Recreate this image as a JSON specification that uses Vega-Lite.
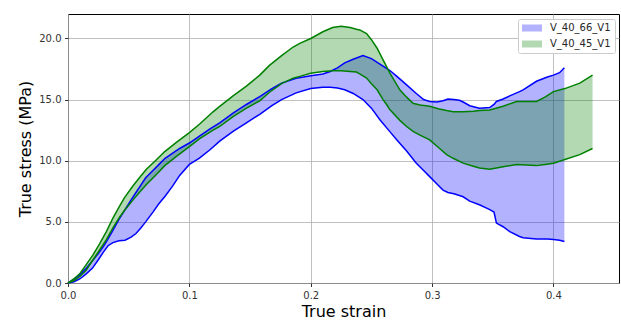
{
  "$schema": "https://vega.github.io/schema/vega-lite/v6.json",
  "width": 551,
  "height": 269,
  "autosize": "none",
  "padding": {"left": 68, "top": 14, "right": 2, "bottom": 38},
  "background": "white",
  "config": {
    "view": {"stroke": "black", "strokeWidth": 1},
    "font": "DejaVu Sans",
    "axis": {
      "domain": false,
      "grid": true,
      "gridColor": "#b0b0b0",
      "gridWidth": 0.8,
      "tickColor": "black",
      "tickSize": 3.5,
      "tickWidth": 0.8,
      "labelFlush": false,
      "labelFont": "DejaVu Sans",
      "labelFontSize": 10,
      "labelColor": "#333333",
      "labelPadding": 3.5,
      "titleFont": "DejaVu Sans",
      "titleFontSize": 16,
      "titleFontWeight": "normal",
      "titleColor": "black"
    }
  },
  "data": {
    "values": [
      {"s": "V_40_66_V1", "x": 0.000, "lo": 0.0, "hi": 0.0},
      {"s": "V_40_66_V1", "x": 0.005, "lo": 0.1, "hi": 0.3},
      {"s": "V_40_66_V1", "x": 0.010, "lo": 0.35, "hi": 0.7},
      {"s": "V_40_66_V1", "x": 0.015, "lo": 0.75, "hi": 1.2},
      {"s": "V_40_66_V1", "x": 0.020, "lo": 1.2, "hi": 1.8},
      {"s": "V_40_66_V1", "x": 0.025, "lo": 1.9, "hi": 2.4},
      {"s": "V_40_66_V1", "x": 0.029, "lo": 2.5, "hi": 2.95},
      {"s": "V_40_66_V1", "x": 0.033, "lo": 3.05, "hi": 3.6},
      {"s": "V_40_66_V1", "x": 0.037, "lo": 3.3, "hi": 4.3},
      {"s": "V_40_66_V1", "x": 0.042, "lo": 3.45, "hi": 5.2},
      {"s": "V_40_66_V1", "x": 0.047, "lo": 3.5, "hi": 6.0},
      {"s": "V_40_66_V1", "x": 0.052, "lo": 3.75, "hi": 6.8},
      {"s": "V_40_66_V1", "x": 0.056, "lo": 4.05, "hi": 7.4},
      {"s": "V_40_66_V1", "x": 0.060, "lo": 4.5, "hi": 8.0},
      {"s": "V_40_66_V1", "x": 0.064, "lo": 5.0, "hi": 8.6},
      {"s": "V_40_66_V1", "x": 0.070, "lo": 5.8, "hi": 9.2},
      {"s": "V_40_66_V1", "x": 0.075, "lo": 6.5, "hi": 9.7},
      {"s": "V_40_66_V1", "x": 0.080, "lo": 7.1, "hi": 10.2},
      {"s": "V_40_66_V1", "x": 0.086, "lo": 7.9, "hi": 10.6},
      {"s": "V_40_66_V1", "x": 0.092, "lo": 8.8, "hi": 11.0},
      {"s": "V_40_66_V1", "x": 0.100, "lo": 9.7, "hi": 11.45},
      {"s": "V_40_66_V1", "x": 0.108, "lo": 10.2, "hi": 12.0},
      {"s": "V_40_66_V1", "x": 0.117, "lo": 10.9, "hi": 12.6},
      {"s": "V_40_66_V1", "x": 0.125, "lo": 11.6, "hi": 13.1},
      {"s": "V_40_66_V1", "x": 0.136, "lo": 12.4, "hi": 13.9},
      {"s": "V_40_66_V1", "x": 0.147, "lo": 13.1, "hi": 14.6},
      {"s": "V_40_66_V1", "x": 0.158, "lo": 13.8, "hi": 15.25},
      {"s": "V_40_66_V1", "x": 0.168, "lo": 14.5, "hi": 15.9},
      {"s": "V_40_66_V1", "x": 0.176, "lo": 15.0, "hi": 16.35},
      {"s": "V_40_66_V1", "x": 0.188, "lo": 15.55, "hi": 16.75},
      {"s": "V_40_66_V1", "x": 0.200, "lo": 15.9, "hi": 16.95},
      {"s": "V_40_66_V1", "x": 0.210, "lo": 16.0, "hi": 17.1},
      {"s": "V_40_66_V1", "x": 0.216, "lo": 16.0, "hi": 17.3},
      {"s": "V_40_66_V1", "x": 0.222, "lo": 15.95, "hi": 17.6},
      {"s": "V_40_66_V1", "x": 0.228, "lo": 15.8, "hi": 18.0},
      {"s": "V_40_66_V1", "x": 0.235, "lo": 15.5, "hi": 18.3},
      {"s": "V_40_66_V1", "x": 0.243, "lo": 15.0, "hi": 18.6},
      {"s": "V_40_66_V1", "x": 0.250, "lo": 14.3, "hi": 18.35},
      {"s": "V_40_66_V1", "x": 0.257, "lo": 13.35, "hi": 17.9},
      {"s": "V_40_66_V1", "x": 0.265, "lo": 12.4, "hi": 17.4},
      {"s": "V_40_66_V1", "x": 0.271, "lo": 11.7, "hi": 16.9},
      {"s": "V_40_66_V1", "x": 0.279, "lo": 10.8, "hi": 16.2},
      {"s": "V_40_66_V1", "x": 0.287, "lo": 9.8, "hi": 15.5},
      {"s": "V_40_66_V1", "x": 0.293, "lo": 9.2, "hi": 15.0},
      {"s": "V_40_66_V1", "x": 0.298, "lo": 8.7, "hi": 14.85},
      {"s": "V_40_66_V1", "x": 0.304, "lo": 8.1, "hi": 14.8},
      {"s": "V_40_66_V1", "x": 0.309, "lo": 7.6, "hi": 14.9},
      {"s": "V_40_66_V1", "x": 0.313, "lo": 7.4, "hi": 15.05},
      {"s": "V_40_66_V1", "x": 0.318, "lo": 7.3, "hi": 15.0},
      {"s": "V_40_66_V1", "x": 0.3225, "lo": 7.15, "hi": 14.95},
      {"s": "V_40_66_V1", "x": 0.3256, "lo": 7.05, "hi": 14.8},
      {"s": "V_40_66_V1", "x": 0.331, "lo": 6.7, "hi": 14.5},
      {"s": "V_40_66_V1", "x": 0.339, "lo": 6.4, "hi": 14.3},
      {"s": "V_40_66_V1", "x": 0.3475, "lo": 6.0, "hi": 14.35},
      {"s": "V_40_66_V1", "x": 0.351, "lo": 5.8, "hi": 14.6},
      {"s": "V_40_66_V1", "x": 0.353, "lo": 4.9, "hi": 14.85},
      {"s": "V_40_66_V1", "x": 0.3585, "lo": 4.6, "hi": 15.05},
      {"s": "V_40_66_V1", "x": 0.364, "lo": 4.2, "hi": 15.3},
      {"s": "V_40_66_V1", "x": 0.372, "lo": 3.8, "hi": 15.65},
      {"s": "V_40_66_V1", "x": 0.375, "lo": 3.7, "hi": 15.8},
      {"s": "V_40_66_V1", "x": 0.386, "lo": 3.6, "hi": 16.5},
      {"s": "V_40_66_V1", "x": 0.395, "lo": 3.6, "hi": 16.85},
      {"s": "V_40_66_V1", "x": 0.400, "lo": 3.55, "hi": 17.0},
      {"s": "V_40_66_V1", "x": 0.405, "lo": 3.5, "hi": 17.2},
      {"s": "V_40_66_V1", "x": 0.409, "lo": 3.4, "hi": 17.6},
      {"s": "V_40_45_V1", "x": 0.000, "lo": 0.0, "hi": 0.0},
      {"s": "V_40_45_V1", "x": 0.005, "lo": 0.2, "hi": 0.35},
      {"s": "V_40_45_V1", "x": 0.010, "lo": 0.55, "hi": 0.8},
      {"s": "V_40_45_V1", "x": 0.015, "lo": 1.05, "hi": 1.5},
      {"s": "V_40_45_V1", "x": 0.0206, "lo": 1.9, "hi": 2.3},
      {"s": "V_40_45_V1", "x": 0.026, "lo": 2.7, "hi": 3.2},
      {"s": "V_40_45_V1", "x": 0.0316, "lo": 3.55, "hi": 4.2},
      {"s": "V_40_45_V1", "x": 0.037, "lo": 4.5, "hi": 5.3},
      {"s": "V_40_45_V1", "x": 0.0426, "lo": 5.4, "hi": 6.3},
      {"s": "V_40_45_V1", "x": 0.0467, "lo": 5.95, "hi": 7.0},
      {"s": "V_40_45_V1", "x": 0.0536, "lo": 6.8, "hi": 7.95},
      {"s": "V_40_45_V1", "x": 0.060, "lo": 7.55, "hi": 8.75},
      {"s": "V_40_45_V1", "x": 0.0646, "lo": 8.05, "hi": 9.3},
      {"s": "V_40_45_V1", "x": 0.072, "lo": 8.8, "hi": 10.0},
      {"s": "V_40_45_V1", "x": 0.0797, "lo": 9.6, "hi": 10.75},
      {"s": "V_40_45_V1", "x": 0.0893, "lo": 10.35, "hi": 11.5},
      {"s": "V_40_45_V1", "x": 0.100, "lo": 11.15, "hi": 12.3},
      {"s": "V_40_45_V1", "x": 0.1085, "lo": 11.8, "hi": 13.0},
      {"s": "V_40_45_V1", "x": 0.1195, "lo": 12.5, "hi": 14.0},
      {"s": "V_40_45_V1", "x": 0.125, "lo": 12.8, "hi": 14.45},
      {"s": "V_40_45_V1", "x": 0.136, "lo": 13.6, "hi": 15.3},
      {"s": "V_40_45_V1", "x": 0.147, "lo": 14.3, "hi": 16.1},
      {"s": "V_40_45_V1", "x": 0.158, "lo": 14.9, "hi": 17.0},
      {"s": "V_40_45_V1", "x": 0.166, "lo": 15.6, "hi": 17.8},
      {"s": "V_40_45_V1", "x": 0.176, "lo": 16.3, "hi": 18.6},
      {"s": "V_40_45_V1", "x": 0.1855, "lo": 16.75, "hi": 19.3},
      {"s": "V_40_45_V1", "x": 0.191, "lo": 16.9, "hi": 19.6},
      {"s": "V_40_45_V1", "x": 0.200, "lo": 17.15, "hi": 20.0},
      {"s": "V_40_45_V1", "x": 0.210, "lo": 17.3, "hi": 20.55},
      {"s": "V_40_45_V1", "x": 0.218, "lo": 17.36, "hi": 20.9},
      {"s": "V_40_45_V1", "x": 0.225, "lo": 17.35, "hi": 21.0},
      {"s": "V_40_45_V1", "x": 0.2325, "lo": 17.3, "hi": 20.9},
      {"s": "V_40_45_V1", "x": 0.2377, "lo": 17.25, "hi": 20.75},
      {"s": "V_40_45_V1", "x": 0.2404, "lo": 17.1, "hi": 20.7},
      {"s": "V_40_45_V1", "x": 0.246, "lo": 16.76, "hi": 20.4},
      {"s": "V_40_45_V1", "x": 0.250, "lo": 16.3, "hi": 19.9},
      {"s": "V_40_45_V1", "x": 0.2547, "lo": 15.8, "hi": 19.2},
      {"s": "V_40_45_V1", "x": 0.2596, "lo": 15.0, "hi": 18.25},
      {"s": "V_40_45_V1", "x": 0.2625, "lo": 14.6, "hi": 17.7},
      {"s": "V_40_45_V1", "x": 0.265, "lo": 14.2, "hi": 17.2},
      {"s": "V_40_45_V1", "x": 0.2734, "lo": 13.3, "hi": 15.8},
      {"s": "V_40_45_V1", "x": 0.279, "lo": 12.8, "hi": 15.2},
      {"s": "V_40_45_V1", "x": 0.2843, "lo": 12.4, "hi": 14.7},
      {"s": "V_40_45_V1", "x": 0.290, "lo": 12.1, "hi": 14.55},
      {"s": "V_40_45_V1", "x": 0.298, "lo": 11.7, "hi": 14.45},
      {"s": "V_40_45_V1", "x": 0.305, "lo": 11.1, "hi": 14.25},
      {"s": "V_40_45_V1", "x": 0.312, "lo": 10.5, "hi": 14.1},
      {"s": "V_40_45_V1", "x": 0.3173, "lo": 10.2, "hi": 14.0},
      {"s": "V_40_45_V1", "x": 0.3256, "lo": 9.8, "hi": 14.0},
      {"s": "V_40_45_V1", "x": 0.334, "lo": 9.55, "hi": 14.05},
      {"s": "V_40_45_V1", "x": 0.339, "lo": 9.4, "hi": 14.1},
      {"s": "V_40_45_V1", "x": 0.3475, "lo": 9.3, "hi": 14.15},
      {"s": "V_40_45_V1", "x": 0.3585, "lo": 9.5, "hi": 14.45},
      {"s": "V_40_45_V1", "x": 0.3696, "lo": 9.7, "hi": 14.85},
      {"s": "V_40_45_V1", "x": 0.378, "lo": 9.65, "hi": 14.85},
      {"s": "V_40_45_V1", "x": 0.386, "lo": 9.6, "hi": 14.85},
      {"s": "V_40_45_V1", "x": 0.393, "lo": 9.7, "hi": 15.2},
      {"s": "V_40_45_V1", "x": 0.400, "lo": 9.8, "hi": 15.65},
      {"s": "V_40_45_V1", "x": 0.4094, "lo": 10.1, "hi": 15.9},
      {"s": "V_40_45_V1", "x": 0.4217, "lo": 10.5, "hi": 16.35},
      {"s": "V_40_45_V1", "x": 0.4322, "lo": 11.0, "hi": 17.0}
    ]
  },
  "encoding": {
    "x": {
      "field": "x", "type": "quantitative",
      "scale": {"domain": [0, 0.454], "nice": false, "zero": false},
      "axis": {"title": "True strain", "values": [0, 0.1, 0.2, 0.3, 0.4], "format": ".1f", "titlePadding": 3}
    }
  },
  "layer": [
    {
      "transform": [{"filter": "datum.s === 'V_40_66_V1'"}],
      "mark": {"type": "area", "fillOpacity": 0.3, "strokeWidth": 0},
      "encoding": {
        "y": {
          "field": "hi", "type": "quantitative",
          "scale": {"domain": [0, 22], "nice": false},
          "axis": {"title": "True stress (MPa)", "values": [0, 2.5, 5, 7.5, 10, 12.5, 15, 17.5, 20], "format": ".1f", "titlePadding": 5}
        },
        "y2": {"field": "lo"},
        "color": {
          "field": "s", "type": "nominal",
          "scale": {"domain": ["V_40_66_V1", "V_40_45_V1"], "range": ["#0000ff", "#008000"]},
          "legend": {
            "title": null,
            "orient": "none",
            "legendX": 450,
            "legendY": 5,
            "fillColor": "white",
            "strokeColor": "#cccccc",
            "cornerRadius": 2,
            "padding": 4,
            "symbolType": "M-1,-0.7H3V0.7H-1Z",
            "symbolSize": 100,
            "symbolOpacity": 0.3,
            "symbolStrokeWidth": 0,
            "labelFont": "DejaVu Sans",
            "labelFontSize": 10,
            "labelColor": "#262626",
            "labelOffset": 18,
            "rowPadding": 6
          }
        }
      }
    },
    {
      "transform": [{"filter": "datum.s === 'V_40_45_V1'"}],
      "mark": {"type": "area", "fillOpacity": 0.3, "strokeWidth": 0},
      "encoding": {
        "y": {"field": "hi", "type": "quantitative"},
        "y2": {"field": "lo"},
        "color": {"field": "s", "type": "nominal"}
      }
    },
    {
      "mark": {"type": "line", "strokeWidth": 1.5},
      "encoding": {
        "y": {"field": "hi", "type": "quantitative"},
        "color": {"field": "s", "type": "nominal"}
      }
    },
    {
      "mark": {"type": "line", "strokeWidth": 1.5},
      "encoding": {
        "y": {"field": "lo", "type": "quantitative"},
        "color": {"field": "s", "type": "nominal"}
      }
    }
  ]
}
